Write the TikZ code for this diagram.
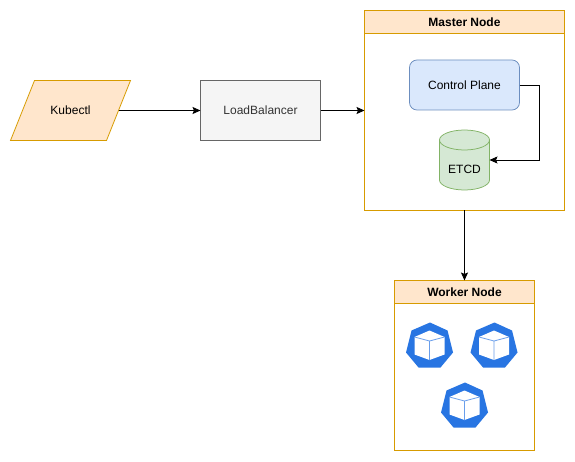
\documentclass[tikz,border=0pt]{standalone}
\usepackage{fontspec}
\setmainfont{Liberation Sans}
\usetikzlibrary{positioning}
\usetikzlibrary{calc}
\usetikzlibrary{arrows.meta}
\definecolor{orangefill}{HTML}{FFE6CC}
\definecolor{orangeline}{HTML}{D79B00}
\definecolor{bluefill}{HTML}{DAE8FC}
\definecolor{blueline}{HTML}{6C8EBF}
\definecolor{greenfill}{HTML}{D5E8D4}
\definecolor{greenline}{HTML}{82B366}
\definecolor{greyfill}{HTML}{F5F5F5}
\definecolor{greyline}{HTML}{666666}
\definecolor{kubeblue}{HTML}{2875E2}
\tikzset{
	pics/kubeicon/.style={code={
		\fill[kubeblue] (0.5,23) -- (18,15) -- (23.5,-7) -- (11,-22) -- (-11,-22) -- (-23.5,-7) -- (-18,15) -- cycle;
		\fill[white] (0,15) -- (15,8.5) -- (15,-9) -- (0,-14.5) -- (-15,-9) -- (-15,8.5) -- cycle;
		\draw[-, kubeblue!70, line width=0.8pt] (-15,8.5) -- (0,4.5) -- (15,8.5) (0,4.5) -- (0,-14.5);
	}}
}
\begin{document}
\begin{tikzpicture}[x=1pt, y=1pt, ->, >={Stealth[length=8pt, width=7pt, inset=1.5pt]}, line width=0.75pt, font=\fontsize{12}{14}\selectfont]
	\tikzstyle{inputbox}=[rectangle, minimum width=96pt, minimum height=60pt, inner sep=0pt, outer sep=0pt]
	\tikzstyle{block}=[draw=greyline, fill=greyfill, text=black!80, rectangle, minimum width=120pt, minimum height=60pt, inner sep=0pt, outer sep=0pt]
	\tikzstyle{container}=[draw=orangeline, fill=white, rectangle, inner sep=0pt, outer sep=0pt]
	\tikzstyle{title}=[draw=orangeline, fill=orangefill, rectangle, minimum height=23pt, inner sep=0pt, outer sep=0pt, font=\fontsize{12}{14}\selectfont\bfseries]
	\tikzstyle{plane}=[draw=blueline, fill=bluefill, rectangle, rounded corners=7.5pt, minimum width=110pt, minimum height=50pt, inner sep=0pt, outer sep=0pt]
	\tikzstyle{store}=[rectangle, minimum width=50pt, minimum height=60pt, inner sep=0pt, outer sep=0pt]

	\useasboundingbox (0,0) rectangle (575,461);

	\node[inputbox] (kubectl) at (70.5,350.5) {};
	\draw[-, draw=orangeline, fill=orangefill] ($(kubectl.north west)+(12,0)$) -- ($(kubectl.north east)+(12,0)$) -- ($(kubectl.south east)-(12,0)$) -- ($(kubectl.south west)-(12,0)$) -- cycle;
	\node (kubectltext) at (kubectl.center) {Kubectl};
	\node[block, right=82pt of kubectl.east] (lb) {LoadBalancer};
	\node[container, right=44pt of lb, minimum width=200pt, minimum height=200pt] (master) {};
	\node[title, minimum width=200pt, anchor=north] (mastertitle) at (master.north) {Master Node};
	\node[plane, below=26.5pt of mastertitle] (cp) {Control Plane};
	\node[store, below=20pt of cp] (etcd) {};
	\draw[-, draw=greenline, fill=greenfill] (etcd.north west) ++(0,-10) arc[start angle=180, end angle=0, x radius=25, y radius=10] -- ++(0,-40) arc[start angle=0, end angle=-180, x radius=25, y radius=10] -- cycle;
	\draw[-, draw=greenline] (etcd.north west) ++(0,-10) arc[start angle=180, end angle=360, x radius=25, y radius=10];
	\node (etcdtext) at ($(etcd.center)+(0,-9.5)$) {ETCD};
	\node[container, below=70pt of master, minimum width=140pt, minimum height=170pt] (worker) {};
	\node[title, minimum width=140pt, anchor=north] (workertitle) at (worker.north) {Worker Node};

	\foreach \x/\y in {-35/-65, 29.5/-65, 0/-125}
		\pic at ($(worker.north)+(\x,\y)$) {kubeicon};

	\draw (kubectl.east) -- (lb.west);
	\draw (lb.east) -- (master.west);
	\draw (cp.east) -- ++(20,0) |- (etcd.east);
	\draw (master.south) -- (worker.north);
\end{tikzpicture}
\end{document}
